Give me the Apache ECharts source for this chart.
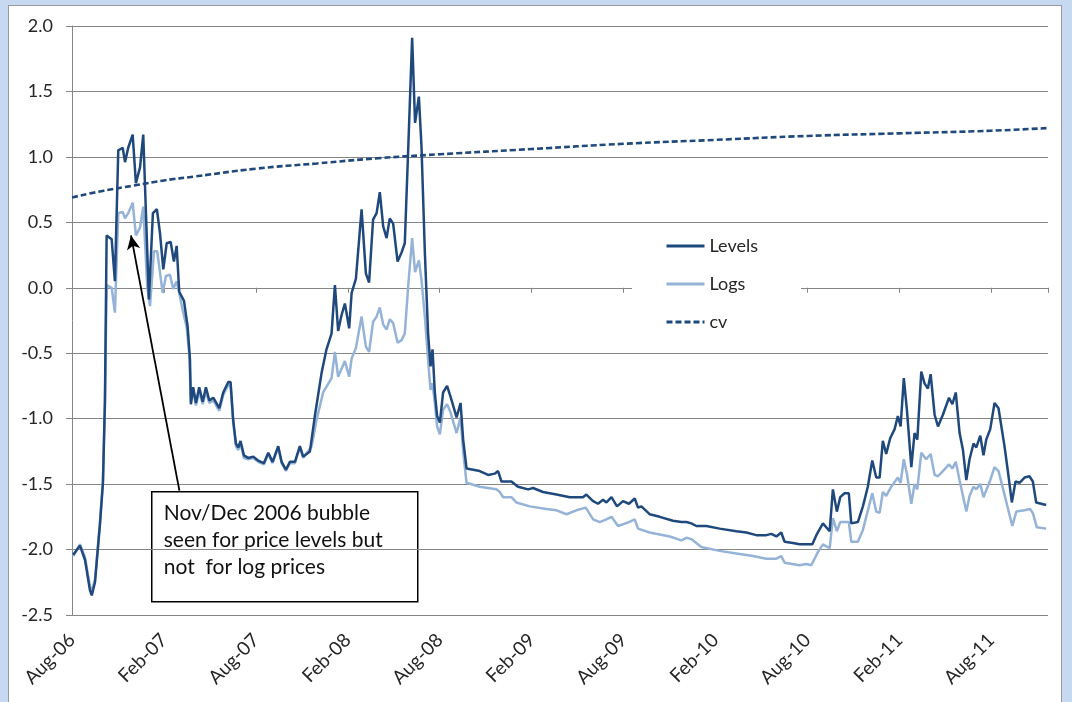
<!DOCTYPE html>
<html>
<head>
<meta charset="utf-8">
<script src="https://cdn.jsdelivr.net/npm/echarts@6/dist/echarts.min.js"></script>
<style>
  html, body { margin: 0; padding: 0; background: #c6d9f1; width: 1072px; height: 702px; overflow: hidden; }
  #panel { position: absolute; left: 8px; top: 5px; width: 1054px; height: 710px; background: #ffffff; border: 1px solid #9a9a9a; box-sizing: border-box; }
  #chart { position: absolute; left: 0; top: 0; width: 1072px; height: 702px; }
</style>
</head>
<body>
<div id="panel"></div>
<div id="chart"></div>
<script>
// x values are months since Aug-2006
const tickLabels = ['Aug-06','Feb-07','Aug-07','Feb-08','Aug-08','Feb-09','Aug-09','Feb-10','Aug-10','Feb-11','Aug-11'];

const tLevels = [0.08,0.52,0.85,1.17,1.29,1.50,1.83,2.02,2.15,2.26,2.59,2.80,3.02,3.31,3.46,3.67,3.96,4.17,4.44,4.65,5.02,5.28,5.54,5.74,5.96,6.18,6.44,6.65,6.83,7.00,7.31,7.55,7.70,7.76,7.91,8.09,8.30,8.53,8.74,8.96,9.22,9.61,9.87,10.20,10.35,10.52,10.70,10.85,11.00,11.22,11.50,11.83,12.15,12.52,12.81,13.09,13.46,13.68,13.96,14.22,14.55,14.87,15.09,15.53,15.85,16.29,16.61,16.94,17.16,17.37,17.59,17.81,18.09,18.25,18.53,18.90,19.18,19.39,19.65,19.88,20.09,20.31,20.53,20.74,20.96,21.25,21.51,21.72,21.94,22.20,22.39,22.64,22.81,23.03,23.24,23.40,23.53,23.68,23.83,24.01,24.22,24.48,24.70,25.10,25.36,25.53,25.75,26.61,27.16,27.59,27.81,28.03,28.68,29.11,29.77,30.09,30.74,31.62,32.49,33.35,33.57,34.01,34.33,34.66,34.88,35.21,35.57,35.96,36.35,36.73,36.94,37.16,37.70,38.36,39.22,39.77,40.10,40.42,40.75,41.40,42.27,43.36,44.01,44.66,45.32,45.64,45.97,46.29,46.51,47.05,47.49,47.92,48.32,48.58,49.01,49.45,49.66,49.92,50.14,50.42,50.70,50.86,51.29,51.62,51.94,52.23,52.49,52.71,52.92,53.14,53.40,53.69,53.90,54.08,54.29,54.49,54.78,54.99,55.17,55.43,55.64,55.86,56.04,56.30,56.52,56.84,57.24,57.46,57.68,57.93,58.15,58.37,58.58,58.84,59.02,59.28,59.49,59.67,59.93,60.21,60.47,60.86,61.08,61.34,61.58,61.84,62.17,62.49,62.71,62.93,63.58];
const levels = [-2.04,-1.97,-2.08,-2.31,-2.35,-2.25,-1.80,-1.49,-0.86,0.40,0.37,0.05,1.05,1.07,0.96,1.07,1.17,0.80,0.92,1.17,-0.09,0.57,0.60,0.42,0.14,0.34,0.35,0.20,0.32,-0.03,-0.10,-0.30,-0.55,-0.89,-0.76,-0.88,-0.76,-0.87,-0.76,-0.86,-0.84,-0.92,-0.80,-0.72,-0.72,-1.01,-1.19,-1.22,-1.17,-1.28,-1.30,-1.29,-1.32,-1.34,-1.26,-1.33,-1.21,-1.33,-1.39,-1.33,-1.33,-1.21,-1.29,-1.25,-0.98,-0.65,-0.47,-0.35,0.02,-0.33,-0.21,-0.12,-0.31,-0.04,0.07,0.60,0.11,0.04,0.52,0.57,0.73,0.47,0.38,0.53,0.49,0.20,0.27,0.34,1.05,1.91,1.26,1.46,1.08,0.27,-0.35,-0.60,-0.47,-0.80,-0.98,-1.03,-0.80,-0.75,-0.83,-0.99,-0.88,-1.16,-1.38,-1.40,-1.43,-1.42,-1.40,-1.48,-1.48,-1.52,-1.54,-1.53,-1.56,-1.58,-1.60,-1.60,-1.58,-1.63,-1.65,-1.62,-1.64,-1.60,-1.67,-1.63,-1.65,-1.61,-1.68,-1.67,-1.73,-1.75,-1.78,-1.79,-1.79,-1.80,-1.82,-1.82,-1.84,-1.86,-1.87,-1.89,-1.89,-1.88,-1.90,-1.87,-1.94,-1.95,-1.96,-1.96,-1.96,-1.89,-1.80,-1.86,-1.54,-1.71,-1.60,-1.57,-1.57,-1.80,-1.79,-1.67,-1.52,-1.32,-1.45,-1.45,-1.17,-1.27,-1.15,-1.08,-0.98,-1.06,-0.69,-0.93,-1.37,-1.11,-1.16,-0.64,-0.73,-0.77,-0.66,-0.97,-1.06,-0.97,-0.84,-0.89,-0.80,-1.11,-1.24,-1.47,-1.31,-1.19,-1.22,-1.13,-1.28,-1.16,-1.08,-0.88,-0.92,-1.21,-1.40,-1.64,-1.48,-1.49,-1.45,-1.44,-1.48,-1.64,-1.66];

const tLogs = [0.08,0.52,0.85,1.17,1.29,1.50,1.83,2.02,2.15,2.26,2.59,2.80,3.02,3.31,3.46,3.67,3.96,4.17,4.44,4.65,4.91,5.09,5.35,5.56,5.92,6.13,6.39,6.61,6.83,7.05,7.26,7.48,7.65,7.76,7.91,8.09,8.30,8.53,8.74,8.96,9.22,9.61,9.87,10.20,10.35,10.52,10.70,10.85,11.00,11.22,11.50,11.83,12.15,12.52,12.81,13.09,13.46,13.68,13.96,14.22,14.55,14.87,15.09,15.64,15.96,16.39,16.94,17.16,17.37,17.81,18.09,18.25,18.53,18.90,19.18,19.39,19.65,19.88,20.09,20.31,20.53,20.74,20.96,21.25,21.51,21.72,21.94,22.20,22.39,22.64,22.81,23.03,23.24,23.40,23.53,23.68,23.83,24.01,24.22,24.48,24.70,25.10,25.36,25.53,25.75,26.61,27.70,27.92,28.14,28.68,29.00,29.88,30.97,31.62,32.27,32.92,33.53,34.01,34.44,34.88,35.21,35.64,36.35,36.73,36.94,37.70,39.02,39.77,40.10,40.42,41.07,42.27,43.36,44.44,45.32,45.97,46.29,46.51,47.49,47.92,48.25,48.68,49.01,49.45,49.66,49.92,50.14,50.70,50.86,51.29,51.62,52.23,52.49,52.71,52.92,53.14,53.47,53.90,54.08,54.29,54.49,54.78,54.99,55.17,55.43,55.75,56.04,56.30,56.52,56.84,57.24,57.46,57.68,57.93,58.37,58.58,58.84,59.02,59.28,59.49,59.93,60.21,60.47,60.86,61.37,61.63,62.17,62.53,62.71,62.97,63.58];
const logs = [-2.05,-1.96,-2.06,-2.28,-2.32,-2.23,-1.78,-1.47,-0.90,0.02,0.00,-0.19,0.57,0.58,0.53,0.57,0.65,0.40,0.46,0.62,0.01,-0.14,0.28,0.28,-0.04,0.09,0.10,-0.01,0.05,-0.07,-0.19,-0.30,-0.50,-0.87,-0.79,-0.90,-0.79,-0.89,-0.79,-0.88,-0.86,-0.94,-0.82,-0.74,-0.75,-1.03,-1.21,-1.24,-1.19,-1.30,-1.31,-1.30,-1.33,-1.35,-1.27,-1.34,-1.22,-1.34,-1.40,-1.34,-1.34,-1.22,-1.30,-1.21,-1.01,-0.80,-0.69,-0.49,-0.68,-0.56,-0.68,-0.54,-0.46,-0.22,-0.45,-0.49,-0.26,-0.22,-0.15,-0.28,-0.32,-0.24,-0.27,-0.42,-0.40,-0.35,0.01,0.38,0.12,0.21,0.06,-0.22,-0.55,-0.78,-0.73,-0.88,-1.06,-1.12,-0.93,-0.89,-0.95,-1.11,-0.99,-1.25,-1.49,-1.52,-1.54,-1.56,-1.60,-1.60,-1.64,-1.67,-1.69,-1.70,-1.73,-1.70,-1.68,-1.77,-1.79,-1.77,-1.75,-1.82,-1.79,-1.77,-1.84,-1.87,-1.90,-1.93,-1.91,-1.92,-1.98,-2.01,-2.03,-2.05,-2.07,-2.07,-2.05,-2.10,-2.12,-2.11,-2.12,-2.02,-1.96,-1.99,-1.76,-1.86,-1.79,-1.79,-1.94,-1.94,-1.85,-1.57,-1.71,-1.72,-1.56,-1.59,-1.52,-1.45,-1.49,-1.31,-1.42,-1.65,-1.50,-1.54,-1.26,-1.31,-1.27,-1.43,-1.44,-1.40,-1.35,-1.38,-1.33,-1.47,-1.71,-1.59,-1.52,-1.54,-1.50,-1.60,-1.47,-1.37,-1.40,-1.58,-1.82,-1.71,-1.70,-1.69,-1.72,-1.83,-1.84];

const tCv = [0,2,4,6,8,12,16,20,24,30,36,42,48,54,60,63.6];
const cv = [0.69,0.74,0.78,0.82,0.85,0.91,0.95,0.99,1.02,1.06,1.10,1.13,1.16,1.18,1.20,1.22];

const annotationText = ['Nov/Dec 2006 bubble', 'seen for price levels but', 'not  for log prices'];

function pairs(xs, ys) { return xs.map((x, i) => [x, ys[i]]); }

const FONT = 'Lato';
const chart = echarts.init(document.getElementById('chart'), null, { renderer: 'canvas' });
chart.setOption({
  backgroundColor: 'transparent',
  animation: false,
  textStyle: { fontFamily: FONT },
  grid: { left: 72, right: 24, top: 26, bottom: 87, containLabel: false },
  legend: {
    orient: 'vertical',
    left: 632, top: 228,
    padding: [7, 43, 7, 33],
    backgroundColor: '#ffffff',
    itemStyle: { opacity: 0 },
    lineStyle: { width: 3 },
    itemWidth: 38, itemHeight: 14, itemGap: 16,
    textStyle: { fontFamily: FONT, fontSize: 18, color: '#262626', lineHeight: 22 },
    data: ['Levels', 'Logs', 'cv']
  },
  xAxis: [{
    type: 'value', min: 0, max: 63.7, interval: 6,
    axisLine: { show: false, onZero: false },
    axisTick: { show: false },
    splitLine: { show: false },
    axisLabel: {
      rotate: 45, margin: 22, fontFamily: FONT, fontSize: 19, color: '#262626',
      formatter: v => (Number.isInteger(v / 6) && tickLabels[v / 6]) ? tickLabels[v / 6] : ''
    }
  }, {
    type: 'value', min: 0, max: 63.7, interval: 6, position: 'bottom',
    axisLine: { show: true, onZero: true, lineStyle: { color: '#868686', width: 1 } },
    axisTick: { show: true, length: 5, lineStyle: { color: '#868686' } },
    axisLabel: { show: false },
    splitLine: { show: false }
  }],
  yAxis: {
    type: 'value', min: -2.5, max: 2.0, interval: 0.5,
    axisLine: { show: true, lineStyle: { color: '#868686', width: 1 } },
    axisTick: { show: true, length: 6, lineStyle: { color: '#868686' } },
    splitLine: { show: true, lineStyle: { color: '#868686', width: 1 } },
    axisLabel: { margin: 19, fontFamily: FONT, fontSize: 18, color: '#262626', formatter: v => v.toFixed(1) }
  },
  series: [{
    name: 'Levels', type: 'line', xAxisIndex: 0, data: pairs(tLevels, levels),
    showSymbol: false, symbol: 'none', z: 4,
    lineStyle: { color: '#1f497d', width: 2.5 }, itemStyle: { color: '#1f497d' }
  }, {
    name: 'Logs', type: 'line', xAxisIndex: 0, data: pairs(tLogs, logs),
    showSymbol: false, symbol: 'none', z: 3,
    lineStyle: { color: '#95b3d7', width: 2.5 }, itemStyle: { color: '#95b3d7' }
  }, {
    name: 'cv', type: 'line', xAxisIndex: 0, data: pairs(tCv, cv), smooth: true,
    showSymbol: false, symbol: 'none', z: 5,
    lineStyle: { color: '#1f497d', width: 2.6, type: [6, 3] }, itemStyle: { color: '#1f497d' },
    markLine: {
      silent: true, symbol: ['none', 'arrow'], symbolSize: [10, 14], animation: false,
      label: { show: false },
      lineStyle: { color: '#000000', width: 1.8, type: 'solid' },
      data: [[{ coord: [7.01, -1.55] }, { coord: [3.85, 0.40] }]]
    }
  }],
  graphic: [{
    type: 'group', left: 151, top: 491, z: 100,
    children: [{
      type: 'rect', shape: { x: 0, y: 0, width: 266, height: 110 },
      style: { fill: '#ffffff', stroke: '#000000', lineWidth: 1.5 }
    }, {
      type: 'text', x: 12, y: 8,
      style: { text: annotationText.join('\n'), font: '21px ' + FONT, fill: '#111111', lineHeight: 27 }
    }]
  }]
});
</script>
</body>
</html>
